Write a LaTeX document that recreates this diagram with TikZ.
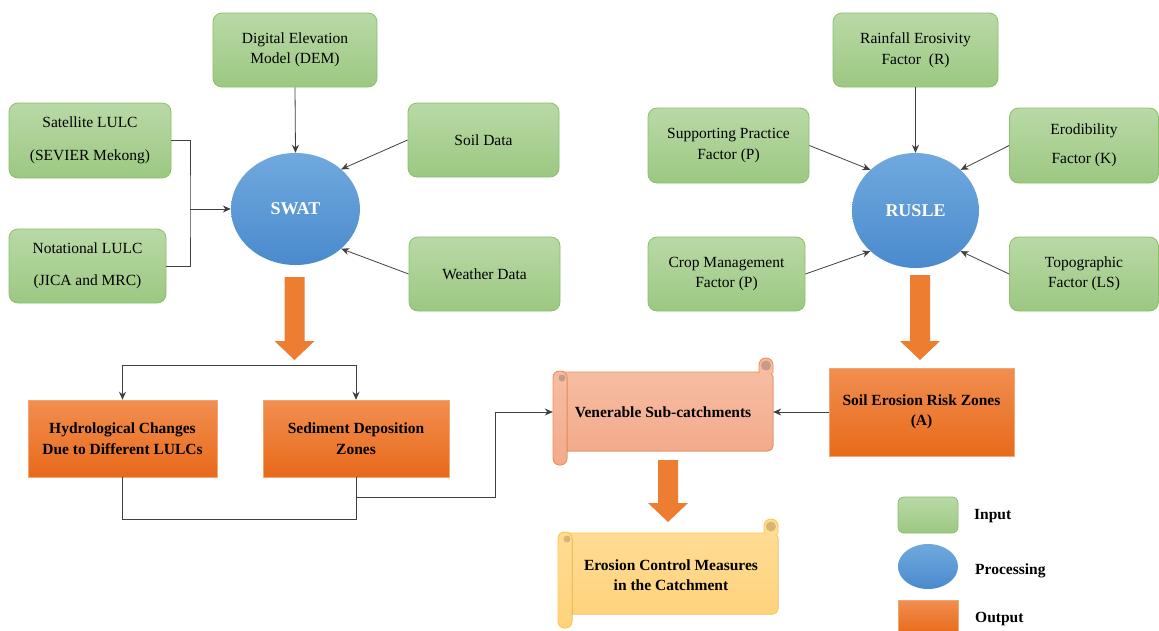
\documentclass[tikz,border=0pt]{standalone}
\usepackage{fontspec}
\setmainfont{Liberation Serif}
\usetikzlibrary{shapes.geometric,arrows.meta}
\definecolor{gtop}{HTML}{B9D9A6}
\definecolor{gbot}{HTML}{9CC882}
\definecolor{gbord}{HTML}{8CBF6A}
\definecolor{btop}{HTML}{70A9DE}
\definecolor{bbot}{HTML}{4A8ACD}
\definecolor{otop}{HTML}{F18E50}
\definecolor{obot}{HTML}{E86A1A}
\definecolor{oarrow}{HTML}{ED7D31}
\definecolor{stop}{HTML}{F6BDA3}
\definecolor{sbot}{HTML}{F3AA8A}
\definecolor{sbord}{HTML}{EF8E5A}
\definecolor{sdark}{HTML}{C9998A}
\definecolor{ytop}{HTML}{FFDB94}
\definecolor{ybot}{HTML}{FFD37C}
\definecolor{ybord}{HTML}{FFC84A}
\definecolor{ydark}{HTML}{D8B572}
\tikzset{
  inbox/.style={rectangle, rounded corners=9pt, draw=gbord, line width=0.8pt,
    top color=gtop, bottom color=gbot, align=center, text=black,
    font=\fontsize{15.5}{20.5}\selectfont, inner sep=2pt},
  procell/.style={ellipse, top color=btop, bottom color=bbot, draw=none,
    text=white, font=\bfseries\fontsize{18}{20}\selectfont, inner sep=0pt},
  outbox/.style={rectangle, top color=otop, bottom color=obot, draw=otop!80, line width=0.5pt,
    align=center, text=black, font=\bfseries\fontsize{15.5}{20.5}\selectfont, inner sep=2pt},
  scrolltext/.style={rectangle, draw=none, align=center, text=black,
    font=\bfseries\fontsize{15.5}{20.5}\selectfont, inner sep=0pt},
  legtext/.style={anchor=west, text=black, font=\bfseries\fontsize{15.5}{18}\selectfont, inner sep=0pt},
  conn/.style={draw=black!75, line width=0.8pt},
  arr/.style={conn, -{Stealth[length=8pt,width=7pt]}},
}
% scroll: x0 y0 x1 y1 top bottom border dark
\newcommand\myscroll[8]{%
  \filldraw[draw=#7, line width=0.9pt, top color=#5, bottom color=#6, rounded corners=5pt]
    ({#1+7},{#2+14}) -- ({#3},{#2+14}) -- ({#3},{#4-14}) -- ({#1+7},{#4-14}) -- cycle;
  \filldraw[draw=#7, line width=0.9pt, fill=#5]
    ({#3-14},{#2+15}) -- ({#3-14},{#2+7}) arc[start angle=180, end angle=360, radius=7] -- ({#3},{#2+15});
  \fill[#8] ({#3-7},{#2+7.5}) circle[radius=5];
  \filldraw[draw=#7, line width=0.9pt, top color=#5, bottom color=#6, rounded corners=6.5pt]
    (#1,{#2+13}) rectangle ({#1+14},#4);
  \fill[#8] ({#1+9},{#2+20}) circle[radius=3.5];
}
\newcommand\blockarrow[3]{%
  \fill[oarrow] ({#1-10},#2) -- ({#1+10},#2) -- ({#1+10},{#3-19}) -- ({#1+20},{#3-19})
    -- (#1,#3) -- ({#1-20},{#3-19}) -- ({#1-10},{#3-19}) -- cycle;
}
\begin{document}
\begin{tikzpicture}[x=1pt,y=-1pt]
\useasboundingbox (0,0) rectangle (1159,630);
\fill[white] (0,0) rectangle (1159,630);

% ---------- SWAT side ----------
\node[inbox, minimum width=164pt, minimum height=74pt] (dem) at (295,50) {Digital Elevation\\Model (DEM)};
\node[inbox, minimum width=162pt, minimum height=75pt] (sat) at (90,140.5) {Satellite LULC\\[12pt](SEVIER Mekong)};
\node[inbox, minimum width=157pt, minimum height=74pt] (not) at (87.5,266) {Notational LULC\\[11pt](JICA and MRC)};
\node[inbox, minimum width=151pt, minimum height=74pt] (soil) at (483.5,140) {Soil Data};
\node[inbox, minimum width=151pt, minimum height=74pt] (weather) at (484.5,274) {Weather Data};
\node[procell, minimum width=129pt, minimum height=112pt] (swat) at (295.5,209) {SWAT};

\draw[arr] (dem.south) -- (swat.north);
\draw[arr] (soil.west) -- (swat.41);
\draw[arr] (weather.west) -- (swat.-41);
\coordinate (jn) at (190,209);
\draw[conn] (sat.east) -| (jn) |- (not.east);
\draw[arr] (jn) -- (swat.west);

\blockarrow{294.5}{277}{360}

\node[outbox, minimum width=189pt, minimum height=77pt] (hyd) at (122.5,438.5) {Hydrological Changes\\Due to Different LULCs};
\node[outbox, minimum width=186pt, minimum height=77pt] (sed) at (356,438.5) {Sediment Deposition\\Zones};

\coordinate (sp) at (294.5,365);
\draw[arr] (sp) -| (hyd.north);
\draw[arr] (sp) -| (sed.north);
\draw[conn] (hyd.south) -- ++(0,42) -| (sed.south);

% ---------- RUSLE side ----------
\node[inbox, minimum width=165pt, minimum height=74pt] (rain) at (915.5,50) {Rainfall Erosivity\\Factor\ \ (R)};
\node[inbox, minimum width=161pt, minimum height=75pt] (supp) at (728.5,145.5) {Supporting Practice\\Factor (P)};
\node[inbox, minimum width=149pt, minimum height=75pt] (erod) at (1084,145.5) {Erodibility\\[9pt]Factor (K)};
\node[inbox, minimum width=157pt, minimum height=74pt] (crop) at (726.5,274) {Crop Management\\Factor (P)};
\node[inbox, minimum width=149pt, minimum height=74pt] (topo) at (1084,274) {Topographic\\Factor (LS)};
\node[procell, minimum width=127pt, minimum height=115pt] (rusle) at (915.5,210.5) {RUSLE};

\draw[arr] (rain.south) -- (rusle.north);
\draw[arr] (supp.east) -- (rusle.138);
\draw[arr] (crop.east) -- (rusle.222);
\draw[arr] (erod.west) -- (rusle.42);
\draw[arr] (topo.west) -- (rusle.-42);

\blockarrow{920}{275}{360}

\node[outbox, minimum width=185pt, minimum height=88pt] (soilr) at (921.5,412) {Soil Erosion Risk Zones\\(A)};

% ---------- scrolls ----------
\blockarrow{668}{460}{522}
\myscroll{553}{358}{773}{465}{stop}{sbot}{sbord}{sdark}
\node[scrolltext, minimum width=220pt, minimum height=80pt] (ven) at (663,412) {Venerable Sub-catchments};

\myscroll{558}{519}{778}{628}{ytop}{ybot}{ybord}{ydark}
\node[scrolltext] (ecm) at (671,575) {Erosion Control Measures\\in the Catchment};

\coordinate (sj) at (356,497);
\coordinate (vk) at (495,412);
\draw[arr] (sj) -| (vk) -- (ven.west);
\draw[arr] (soilr.west) -- (ven.east);

% ---------- legend ----------
\node[inbox, rounded corners=6pt, minimum width=60pt, minimum height=36pt] (lin) at (928,515) {};
\node[legtext] (lintext) at (974,516) {Input};
\node[procell, minimum width=60pt, minimum height=45pt] (lproc) at (928,566.5) {};
\node[legtext] (lproctext) at (975,571) {Processing};
\node[outbox, minimum width=60pt, minimum height=34pt] (lout) at (928,617) {};
\node[legtext] (louttext) at (975,619) {Output};
\end{tikzpicture}
\end{document}
